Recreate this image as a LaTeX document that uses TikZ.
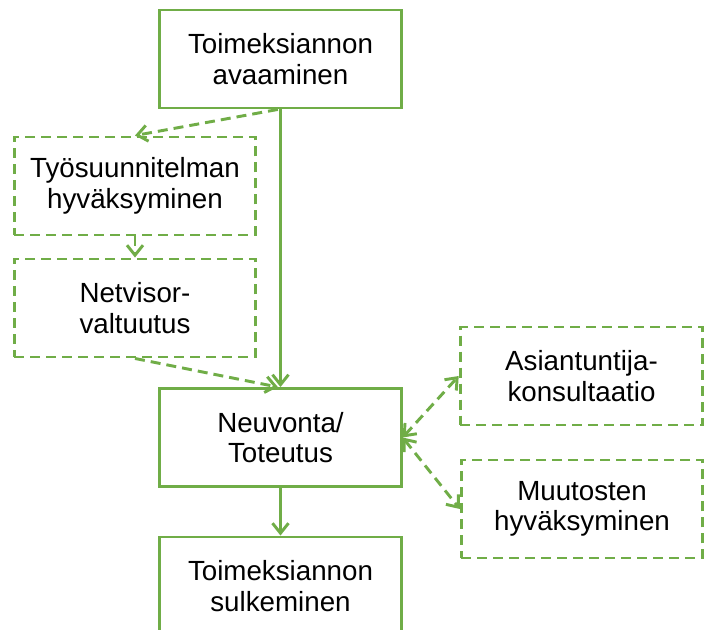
\documentclass[tikz,border=0pt]{standalone}
\usepackage{fontspec}
\setmainfont{Liberation Sans}
\usetikzlibrary{arrows.meta}
\definecolor{leafgreen}{HTML}{70AD47}
\begin{document}
\begin{tikzpicture}[x=0.75pt, y=-0.75pt, >={Straight Barb[length=7.5pt, width=12pt]},
    box/.style={draw=leafgreen, line width=2.2pt, minimum width=181pt, minimum height=73.5pt, inner sep=0pt, align=center, font=\fontsize{20.8}{22.8}\selectfont},
    dbox/.style={box, dash pattern=on 7.5pt off 4.5pt},
    link/.style={leafgreen, line width=2.2pt},
    dlink/.style={link, dash pattern=on 7.5pt off 4.5pt}]
        \useasboundingbox (0,0) rectangle (706,630);
        \clip (0,0) rectangle (706,630);
        \node[box] (open) at (280.5,59) {Toimeksiannon\\avaaminen};
        \node[dbox] (plan) at (135,186) {Työsuunnitelman\\hyväksyminen};
        \node[dbox] (netv) at (135,308) {Netvisor-\\valtuutus};
        \node[box] (neuv) at (280.5,437.5) {Neuvonta/\\Toteutus};
        \node[box] (close) at (280.5,586) {Toimeksiannon\\sulkeminen};
        \node[dbox, minimum width=182pt] (expert) at (581.5,376) {Asiantuntija-\\konsultaatio};
        \node[dbox] (change) at (582,509) {Muutosten\\hyväksyminen};
        \draw[link, ->] (open) -- (neuv);
        \draw[link, ->] (neuv) -- (close);
        \draw[dlink, ->] ([xshift=-2pt]open.south) -- (plan.north);
        \draw[dlink, ->] (plan) -- (netv);
        \draw[dlink, ->] (netv.south) -- ([xshift=-2pt]neuv.north);
        \draw[dlink, <->] (neuv.east) -- (expert.west);
        \draw[dlink, <->] (neuv.east) -- (change.west);% both ends
    \end{tikzpicture}
\end{document}
